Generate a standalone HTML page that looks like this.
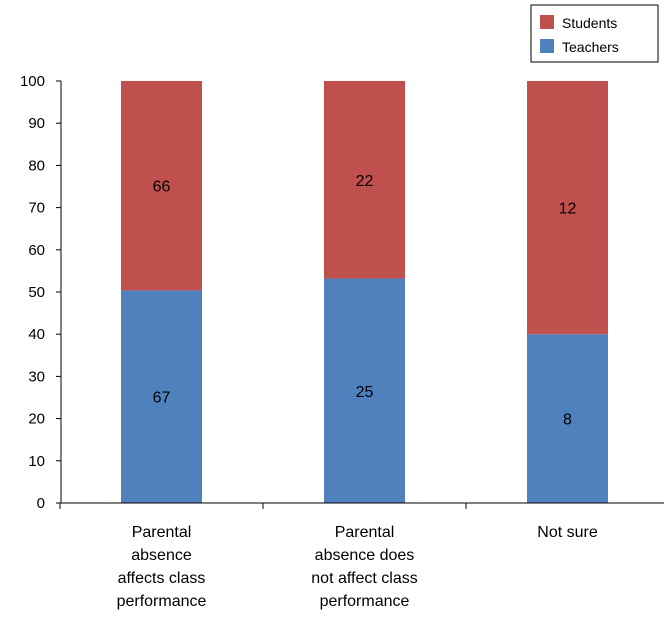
<!DOCTYPE html>
<html><head><meta charset="utf-8"><style>
html,body{margin:0;padding:0;background:#fff;}
svg text{font-family:"Liberation Sans",sans-serif;fill:#000;}
</style></head><body>
<svg id="chart" width="664" height="623" viewBox="0 0 664 623" xmlns="http://www.w3.org/2000/svg">
<g id="legend">
<rect x="531" y="5" width="127" height="57" fill="#fff" stroke="#000" stroke-width="1"/>
<rect x="540" y="15" width="14" height="14" fill="#c0504d"/>
<text x="562" y="28" font-size="14">Students</text>
<rect x="540" y="39" width="14" height="14" fill="#4f81bd"/>
<text x="562" y="52" font-size="14">Teachers</text>
</g>
</svg>
<script>
const categories=[["Parental","absence","affects class","performance"],["Parental","absence does","not affect class","performance"],["Not sure"]];
const teachers=[67,25,8];
const students=[66,22,12];
const yTicks=[0,10,20,30,40,50,60,70,80,90,100];

const svg=document.getElementById('chart');
const NS='http://www.w3.org/2000/svg';
const x0=61,y0=503,y1=81,catW=203,barW=81;
const y=v=>y0-(v/100)*(y0-y1);
const xc=i=>x0-1+catW*(i+0.5);
function mk(t,a){const e=document.createElementNS(NS,t);for(const k in a)e.setAttribute(k,a[k]);svg.appendChild(e);return e;}

yTicks.forEach(t=>{
  const l=mk('line',{x1:x0-5,x2:x0,y1:y(t),y2:y(t),stroke:'#000'});
  
  
  const tx=mk('text',{x:x0-16,y:y(t)+5,'font-size':15,'text-anchor':'end'});
  tx.textContent=t;
  
  
});

categories.forEach((c,i)=>{
  const tot=teachers[i]+students[i];
  const tp=teachers[i]/tot*100;
  const cx=xc(i);
  const b1=mk('rect',{x:cx-barW/2,y:y(tp),width:barW,height:y(0)-y(tp),fill:'#4f81bd'});
  
  
  const b2=mk('rect',{x:cx-barW/2,y:y(100),width:barW,height:y(tp)-y(100),fill:'#c0504d'});
  
  
  const l1=mk('text',{x:cx,y:(y(0)+y(tp))/2+6,'font-size':16,'text-anchor':'middle'});
  l1.textContent=teachers[i];
  
  
  const l2=mk('text',{x:cx,y:(y(tp)+y(100))/2+6,'font-size':16,'text-anchor':'middle'});
  l2.textContent=students[i];
  
  
  c.forEach((line,j)=>{
    const t=mk('text',{x:cx,y:537+j*23,'font-size':16,'text-anchor':'middle'});
    t.textContent=line;
    
    
  });
});
for(let i=0;i<=categories.length;i++){
  const t=mk('line',{x1:x0-1+catW*i,x2:x0-1+catW*i,y1:y0,y2:y0+6,stroke:'#000'});
  
  
}
const ya=mk('line',{x1:x0,x2:x0,y1:y1,y2:y0,stroke:'#000'});


const xa=mk('line',{x1:x0,x2:x0+catW*3,y1:y0,y2:y0,stroke:'#000'});


</script>
</body></html>
